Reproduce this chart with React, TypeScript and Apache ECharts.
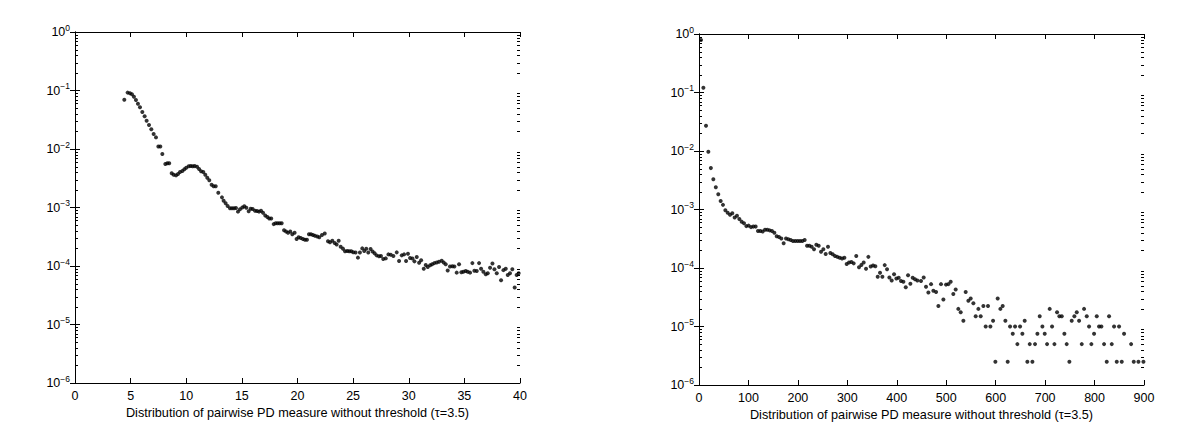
import React, { useEffect, useRef } from "react";
import * as echarts from "echarts";

// Left panel: PD measure (0..40) vs frequency
const leftPD = [
  4.43, 4.73, 4.94, 5.12, 5.3, 5.48, 5.66, 5.84, 6.05, 6.26, 6.44, 6.65, 6.86, 7.07, 7.28, 7.49, 7.67, 7.85,
  8.12, 8.3, 8.47, 8.69, 8.87, 9.08, 9.26, 9.44, 9.65, 9.83, 10.0, 10.22, 10.4, 10.58, 10.76, 10.97, 11.15,
  11.33, 11.53, 11.71, 11.89, 12.07, 12.28, 12.46, 12.65, 12.88, 13.21, 13.36, 13.54, 13.72, 13.93, 14.11,
  14.29, 14.47, 14.65, 14.83, 15.04, 15.22, 15.4, 15.61, 15.79, 15.97, 16.18, 16.36, 16.54, 16.72, 16.9,
  17.1, 17.29, 17.46, 17.64, 17.86, 18.04, 18.22, 18.4, 18.58, 18.79, 18.97, 19.15, 19.35, 19.53, 19.74,
  19.92, 20.1, 20.29, 20.49, 20.67, 20.85, 21.03, 21.21, 21.39, 21.57, 21.78, 21.96, 22.2, 22.45, 22.74,
  22.92, 23.13, 23.34, 23.52, 23.7, 23.88, 24.09, 24.27, 24.47, 24.65, 24.83, 25.01, 25.22, 25.43, 25.61,
  25.82, 26.0, 26.18, 26.36, 26.57, 26.75, 26.93, 27.11, 27.32, 27.5, 27.71, 27.93, 28.17, 28.38, 28.62,
  28.92, 29.13, 29.37, 29.58, 29.76, 29.93, 30.12, 30.33, 30.51, 30.72, 30.93, 31.11, 31.35, 31.53, 31.71,
  31.92, 32.1, 32.3, 32.51, 32.72, 32.96, 33.14, 33.32, 33.5, 33.71, 33.92, 34.1, 34.31, 34.52, 34.73,
  34.91, 35.12, 35.3, 35.51, 35.72, 35.9, 36.11, 36.32, 36.5, 36.71, 36.92, 37.1, 37.31, 37.52, 37.7,
  37.91, 38.12, 38.3, 38.51, 38.72, 38.9, 39.1, 39.31, 39.52, 39.7, 39.88,
];
const leftFreq = [
  0.0697, 0.092, 0.09, 0.086, 0.0785, 0.069, 0.0596, 0.0517, 0.0429, 0.0362, 0.0305, 0.0257, 0.0217, 0.018,
  0.0158, 0.011, 0.011, 0.0082, 0.00555, 0.0057, 0.0057, 0.00384, 0.00363, 0.00354, 0.00374, 0.00404,
  0.0042, 0.0045, 0.0048, 0.00506, 0.00513, 0.00506, 0.0051, 0.00499, 0.00455, 0.00416, 0.00404, 0.00363,
  0.00323, 0.00292, 0.00245, 0.0023, 0.0023, 0.00179, 0.00149, 0.0013, 0.00118, 0.00106, 0.00097, 0.00097,
  0.00097, 0.00098, 0.00085, 0.00093, 0.001, 0.00105, 0.00099, 0.00086, 0.00095, 0.00094, 0.00088, 0.00087,
  0.00085, 0.00088, 0.00081, 0.00073, 0.00069, 0.00065, 0.00065, 0.00052, 0.00054, 0.00054, 0.00054,
  0.00054, 0.00041, 0.00039, 0.00037, 0.00039, 0.00035, 0.00037, 0.00029, 0.00031, 0.0003, 0.00029,
  0.00028, 0.00028, 0.00035, 0.00035, 0.00034, 0.00033, 0.00032, 0.00031, 0.00034, 0.00036, 0.000264,
  0.000255, 0.00027, 0.000247, 0.000233, 0.00027, 0.000214, 0.000198, 0.000178, 0.00018, 0.000178,
  0.000178, 0.000172, 0.00017, 0.000139, 0.00017, 0.0002, 0.00018, 0.000197, 0.00017, 0.000195, 0.000177,
  0.000165, 0.000152, 0.000147, 0.000148, 0.000132, 1.35e-4, 1.58e-4, 1.56e-4, 1.48e-4, 1.71e-4, 1.22e-4,
  1.52e-4, 1.58e-4, 1.22e-4, 1.62e-4, 1.37e-4, 1.34e-4, 1.2e-4, 1.43e-4, 1.14e-4, 1.25e-4, 9.0e-5,
  1.04e-4, 9.6e-5, 1.03e-4, 1.07e-4, 1.12e-4, 1.15e-4, 1.18e-4, 1.23e-4, 1.15e-4, 1.07e-4, 8.4e-5, 9.8e-5,
  9.9e-5, 9.8e-5, 7.7e-5, 1.07e-4, 7.8e-5, 8.0e-5, 8.2e-5, 8.0e-5, 7.7e-5, 1.12e-4, 8.3e-5, 8.2e-5,
  1.12e-4, 9.0e-5, 8.0e-5, 7.2e-5, 7.5e-5, 9.3e-5, 1.1e-4, 8.8e-5, 7.5e-5, 9.6e-5, 5.7e-5, 8.5e-5, 9.0e-5,
  7.0e-5, 7.5e-5, 8.8e-5, 4.3e-5, 7.0e-5, 7.5e-5,
];

// Right panel: PD measure (0..900) vs frequency
const rightPD = [
  4, 8.8, 14.2, 18.9, 24, 29, 34, 39, 43.8, 48.5, 53.3, 58, 62.7, 67.4, 72.1, 76.8, 81.6, 86.3, 91, 95.7,
  100.4, 105.2, 109.9, 114.6, 119.3, 124, 128.8, 133.5, 138.2, 142.9, 147.6, 152.4, 157.1, 161.8, 166.5,
  171.2, 176, 180.7, 185.4, 190.1, 194.8, 199.6, 204.3, 209, 213.7, 218.5, 223.2, 227.9, 232.6, 237.3,
  242.1, 246.8, 251.5, 256.2, 260.9, 265.7, 270.4, 275.1, 279.8, 284.5, 289.3, 294, 298.7, 303.4, 308.2,
  312.9, 318, 323.6, 328.4, 333.1, 337.8, 342.5, 347.2, 352, 356.7, 361.4, 366.1, 370.9, 375.6, 380.3,
  385, 389.7, 394.5, 399.2, 403.9, 408.6, 413.3, 418.1, 422.8, 427.5, 432.2, 436.9, 441.7, 449, 454.4,
  459.1, 463.9, 469.3, 474, 479.4, 484.1, 489.5, 494.2, 499.6, 504.3, 509, 514.4, 519.1, 524.5, 529.3,
  534.7, 539.4, 544.8, 549.5, 554.9, 559.6, 565, 569.7, 575.1, 579.8, 584.5, 589.3, 594.7, 599.4, 604.1,
  609.5, 614.2, 619.6, 624.3, 629.1, 634.5, 639.2, 643.9, 649.3, 654, 658.7, 664.1, 668.9, 674.3, 679.6,
  684.4, 689.1, 694.5, 699.2, 703.9, 709.3, 714, 718.8, 724.2, 728.9, 733.6, 739, 743.7, 749.1, 753.8,
  759.2, 764, 768.7, 774.1, 778.8, 784.2, 788.9, 793.6, 799, 804.4, 809.1, 813.8, 819.2, 824.6, 829.4,
  834.8, 839.5, 844.9, 849.6, 855, 859.7, 873.9, 879.3, 888.7, 898.8,
];
const rightFreq = [
  0.79, 0.121, 0.027, 0.0097, 0.0051, 0.0033, 0.0024, 0.00183, 0.0014, 0.0012, 0.00097, 0.00088, 0.00081,
  0.00086, 0.00073, 0.00078, 0.00069, 0.00062, 0.00058, 0.00052, 0.00053, 0.0005, 0.00051, 0.00051,
  0.00043, 0.00043, 0.00042, 0.00045, 0.00045, 0.00044, 0.00043, 0.0004, 0.00035, 0.00034, 0.00032,
  0.000264, 0.00032, 0.00031, 0.0003, 0.00029, 0.00029, 0.00029, 0.00029, 0.00029, 0.0003, 0.00024,
  0.00024, 0.00023, 0.00021, 0.00025, 0.00024, 0.00019, 0.00021, 0.000173, 0.00023, 0.00018, 0.000172,
  0.00016, 0.000155, 0.00015, 0.000145, 0.00015, 0.000117, 0.000124, 0.000127, 0.00012, 0.00016,
  0.000103, 0.000113, 0.000124, 9.7e-5, 0.000155, 0.000106, 0.00011, 0.000107, 7.1e-5, 8.3e-5, 7.1e-5,
  0.000112, 9.5e-5, 6.9e-5, 6.1e-5, 7.8e-5, 6.6e-5, 6.8e-5, 6.0e-5, 5.8e-5, 4.7e-5, 7.5e-5, 5.4e-5,
  6.8e-5, 6.4e-5, 6.1e-5, 6.0e-5, 6.9e-5, 4.8e-5, 3.8e-5, 5.3e-5, 4.1e-5, 3.9e-5, 2.25e-5, 5.3e-5,
  2.9e-5, 5.2e-5, 5.3e-5, 5.8e-5, 3.6e-5, 4.3e-5, 2.0e-5, 1.75e-5, 1.25e-5, 3.9e-5, 2.75e-5, 3.0e-5,
  2.5e-5, 1.5e-5, 2.0e-5, 1.5e-5, 2.25e-5, 1.0e-5, 2.25e-5, 1.0e-5, 1.25e-5, 2.5e-6, 3.0e-5, 2.0e-5,
  2.25e-5, 1.25e-5, 2.5e-6, 1.0e-5, 7.5e-6, 1.0e-5, 5.0e-6, 1.0e-5, 7.5e-6, 1.25e-5, 2.5e-6, 5.0e-6,
  2.5e-6, 5.0e-6, 7.5e-6, 1.5e-5, 1.0e-5, 7.5e-6, 5.0e-6, 2.0e-5, 1.0e-5, 5.0e-6, 1.75e-5, 1.5e-5,
  1.5e-5, 7.5e-6, 5.0e-6, 2.5e-6, 1.25e-5, 1.5e-5, 1.75e-5, 1.25e-5, 5.0e-6, 2.0e-5, 1.5e-5, 1.0e-5,
  5.0e-6, 7.5e-6, 1.5e-5, 1.0e-5, 1.0e-5, 5.0e-6, 2.5e-6, 1.5e-5, 5.0e-6, 1.0e-5, 2.5e-6, 1.0e-5,
  2.5e-6, 7.5e-6, 5.0e-6, 2.5e-6, 2.5e-6, 2.5e-6,
];

const xTitle = "Distribution of pairwise PD measure without threshold (\u03c4=3.5)";
const leftXTicks = { min: 0, max: 40, interval: 5 };
const rightXTicks = { min: 0, max: 900, interval: 100 };
const yRange = { min: 1e-6, max: 1 };

const FONT = "'Liberation Sans', Arial, Helvetica, sans-serif";

export default function App() {
  const ref = useRef<HTMLDivElement>(null);
  useEffect(() => {
    const chart = echarts.init(ref.current!, null, { renderer: "svg" });

    const minorValues: number[] = [];
    for (let e = -6; e < 0; e++) {
      for (let m = 2; m <= 9; m++) minorValues.push(m * Math.pow(10, e));
    }

    const yLabel = (v: number) => {
      const e = Math.round(Math.log10(v));
      return `{b|10}{s|${e === 0 ? "0" : "\u2212" + -e}}`;
    };

    const axisLine = { show: true, lineStyle: { color: "#000", width: 1 } };

    const makeX = (grid: number, t: { min: number; max: number; interval: number }, top: boolean) => ({
      type: "value",
      gridIndex: grid,
      position: top ? "top" : "bottom",
      min: t.min,
      max: t.max,
      interval: t.interval,
      axisLine,
      axisTick: { show: true, inside: true, length: 5, lineStyle: { color: "#000" } },
      axisLabel: top
        ? { show: false }
        : { show: true, color: "#000", fontSize: 12.5, fontFamily: FONT, margin: 6 },
      splitLine: { show: false },
      name: top ? "" : xTitle,
      nameLocation: "middle",
      nameGap: 21,
      nameTextStyle: { color: "#000", fontSize: 12.7, fontFamily: FONT },
    });

    const makeY = (grid: number, right: boolean) => ({
      type: "log",
      logBase: 10,
      gridIndex: grid,
      position: right ? "right" : "left",
      min: yRange.min,
      max: yRange.max,
      axisLine,
      axisTick: { show: true, inside: true, length: 5, lineStyle: { color: "#000" } },
      axisLabel: right
        ? { show: false }
        : {
            show: true,
            margin: 5,
            formatter: yLabel,
            rich: {
              b: { fontSize: 12.5, lineHeight: 18, color: "#000", fontFamily: FONT },
              s: { fontSize: 8.5, lineHeight: 9, verticalAlign: "top", color: "#000", fontFamily: FONT },
            },
          },
      splitLine: { show: false },
    });

    // minor log ticks on both vertical edges, positioned through the axis scale
    const minorRender = (t: { min: number; max: number }) => (params: any, api: any) => {
      const v = api.value(0);
      const pl = api.coord([t.min, v]);
      const pr = api.coord([t.max, v]);
      const y = Math.round(pl[1]);
      const xl = Math.round(pl[0]);
      const xr = Math.round(pr[0]);
      return {
        type: "group",
        children: [
          { type: "rect", shape: { x: xl, y: y, width: 3, height: 1 }, style: { fill: "#000" } },
          { type: "rect", shape: { x: xr - 3, y: y, width: 3, height: 1 }, style: { fill: "#000" } },
        ],
      };
    };

    const dotStyle = {
      type: "scatter",
      symbol: "circle",
      symbolSize: 4,
      itemStyle: { color: "#000" },
      silent: true,
    };

    const option = {
      animation: false,
      backgroundColor: "#fff",
      grid: [
        { left: 75, top: 32, width: 445, height: 351 },
        { left: 699, top: 34, width: 445, height: 351 },
      ],
      xAxis: [
        makeX(0, leftXTicks, false),
        makeX(0, leftXTicks, true),
        makeX(1, rightXTicks, false),
        makeX(1, rightXTicks, true),
      ],
      yAxis: [makeY(0, false), makeY(0, true), makeY(1, false), makeY(1, true)],
      series: [
        {
          ...dotStyle,
          xAxisIndex: 0,
          yAxisIndex: 0,
          data: leftPD.map((x, i) => [x, leftFreq[i]]),
        },
        {
          ...dotStyle,
          xAxisIndex: 2,
          yAxisIndex: 2,
          data: rightPD.map((x, i) => [x, rightFreq[i]]),
        },
        {
          type: "custom",
          xAxisIndex: 0,
          yAxisIndex: 0,
          encode: { y: 0 },
          renderItem: minorRender(leftXTicks),
          data: minorValues.map((v) => [v]),
          silent: true,
          clip: false,
        },
        {
          type: "custom",
          xAxisIndex: 2,
          yAxisIndex: 2,
          encode: { y: 0 },
          renderItem: minorRender(rightXTicks),
          data: minorValues.map((v) => [v]),
          silent: true,
          clip: false,
        },
      ],
    };

    chart.setOption(option as any);
    return () => chart.dispose();
  }, []);

  return (
    <div
      ref={ref}
      style={{ position: "absolute", left: 0, top: 0, width: 1200, height: 433, background: "#fff" }}
    />
  );
}
